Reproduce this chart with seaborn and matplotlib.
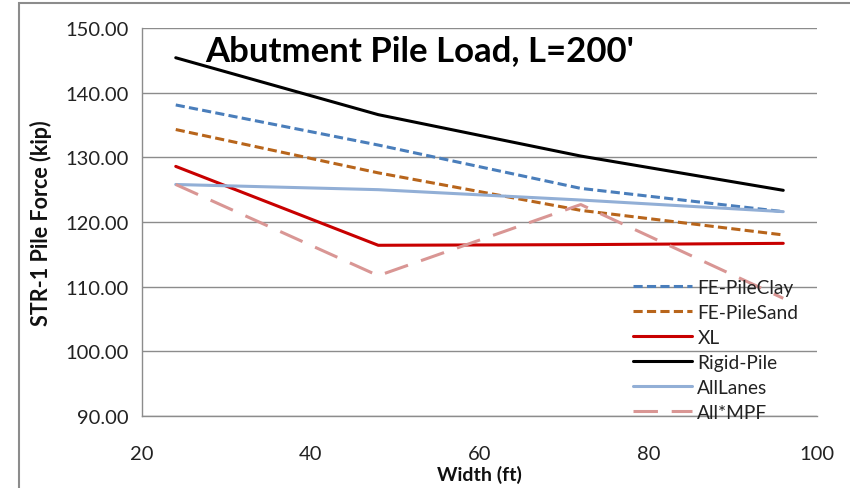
import matplotlib
matplotlib.use("Agg")
import matplotlib.pyplot as plt
import seaborn as sns
import pandas as pd
from matplotlib.patches import Rectangle

width = [24, 48, 72, 96]
fe_pile_clay = [138.1, 131.9, 125.2, 121.6]
fe_pile_sand = [134.3, 127.6, 121.8, 118.0]
xl = [128.6, 116.4, 116.5, 116.7]
rigid_pile = [145.4, 136.6, 130.2, 124.9]
all_lanes = [125.8, 125.0, 123.4, 121.6]
all_mpf = [125.8, 111.7, 122.7, 108.2]

series_names = ["FE-PileClay", "FE-PileSand", "XL", "Rigid-Pile", "AllLanes", "All*MPF"]
series_vals = [fe_pile_clay, fe_pile_sand, xl, rigid_pile, all_lanes, all_mpf]
colors = ["#4A7EBB", "#B8651B", "#C80000", "#000000", "#92AFD6", "#D99694"]
dashes = [(3, 1.4), (3, 1.4), "", "", "", (8, 4.5)]

rows = []
for name, vals in zip(series_names, series_vals):
    for w, v in zip(width, vals):
        rows.append({"Width": w, "Force": v, "Series": name})
df = pd.DataFrame(rows)

sns.set_theme(style="white")
plt.rcParams["font.family"] = ["Lato", "DejaVu Sans"]

fig = plt.figure(figsize=(8.5, 4.89), dpi=100)
ax = fig.add_axes([142/850, 1-417/489, (817-142)/850, (417-29)/489])

sns.lineplot(data=df, x="Width", y="Force", hue="Series", style="Series",
             palette=dict(zip(series_names, colors)),
             dashes=dict(zip(series_names, dashes)),
             hue_order=series_names, style_order=series_names,
             linewidth=2.2, ax=ax, legend=True)

ax.set_xlim(20, 100)
ax.set_ylim(90, 150)
ax.set_xticks([20, 40, 60, 80, 100])
ax.set_yticks([90, 100, 110, 120, 130, 140, 150])
ax.set_yticklabels([f"{v:.2f}" for v in [90, 100, 110, 120, 130, 140, 150]])
ax.grid(axis="y", color="#8C8C8C", linewidth=1)
ax.set_axisbelow(True)
for s in ["top", "right"]:
    ax.spines[s].set_visible(False)
for s in ["left", "bottom"]:
    ax.spines[s].set_color("#8C8C8C")
    ax.spines[s].set_linewidth(1)
ax.tick_params(axis="both", colors="#8C8C8C", labelcolor="#222222", labelsize=14.5,
               direction="out", length=6, width=1)
ax.tick_params(axis="x", pad=15)
ax.set_xlabel("Width (ft)", fontsize=14, fontweight="bold", color="#111111", labelpad=2)
ax.set_ylabel("STR-1 Pile Force (kip)", fontsize=15.5, fontweight="bold", color="#111111", labelpad=10)

ax.text(0.093, 0.985, "Abutment Pile Load, L=200'", transform=ax.transAxes,
        fontsize=25, fontweight="bold", va="top", ha="left", color="#000000")

leg = ax.legend(loc="center left", bbox_to_anchor=((633-142)/675, (417-351)/388), frameon=False,
                fontsize=13.8, handlelength=3.1, handletextpad=0.26, labelspacing=0.415,
                borderaxespad=0, borderpad=0)
for t in leg.get_texts():
    t.set_color("#222222")

fig.patches.append(Rectangle((19/850, -0.1), 1.2, 1 - 4/489 + 0.1, transform=fig.transFigure,
                             fill=False, edgecolor="#8C8C8C", linewidth=1.5))

fig.savefig("out.png", dpi=100)
